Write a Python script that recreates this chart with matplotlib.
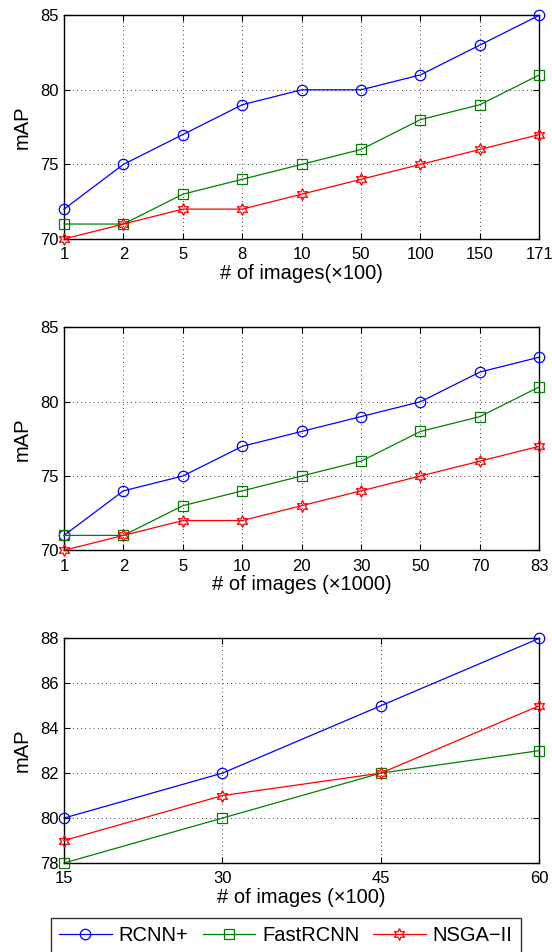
import numpy as np
import matplotlib
matplotlib.use('Agg')
import matplotlib.pyplot as plt

plt.rcParams['font.family'] = ['Liberation Sans', 'DejaVu Sans']
plt.rcParams['font.size'] = 12

# panel 1
x1_labels = ['1', '2', '5', '8', '10', '50', '100', '150', '171']
rcnn1 = [72, 75, 77, 79, 80, 80, 81, 83, 85]
fast1 = [71, 71, 73, 74, 75, 76, 78, 79, 81]
nsga1 = [70, 71, 72, 72, 73, 74, 75, 76, 77]

# panel 2
x2_labels = ['1', '2', '5', '10', '20', '30', '50', '70', '83']
rcnn2 = [71, 74, 75, 77, 78, 79, 80, 82, 83]
fast2 = [71, 71, 73, 74, 75, 76, 78, 79, 81]
nsga2 = [70, 71, 72, 72, 73, 74, 75, 76, 77]

# panel 3
x3_labels = ['15', '30', '45', '60']
rcnn3 = [80, 82, 85, 88]
fast3 = [78, 80, 82, 83]
nsga3 = [79, 81, 82, 85]

xlabels = ['# of images(\u00d7100)', '# of images (\u00d71000)', '# of images (\u00d7100)']

hexagram = (6, 1, 0)

fig = plt.figure(figsize=(5.52, 9.52), dpi=100)
rects = [[0.116, 0.749, 0.861, 0.235],
         [0.116, 0.422, 0.861, 0.234],
         [0.116, 0.0935, 0.861, 0.236]]

panels = [(x1_labels, rcnn1, fast1, nsga1, (70, 85), [70, 75, 80, 85]),
          (x2_labels, rcnn2, fast2, nsga2, (70, 85), [70, 75, 80, 85]),
          (x3_labels, rcnn3, fast3, nsga3, (78, 88), [78, 80, 82, 84, 86, 88])]

handles = None
for i, (labels, r, f, n, ylim, yt) in enumerate(panels):
    ax = fig.add_axes(rects[i])
    x = np.arange(len(labels))
    h1, = ax.plot(x, r, color='b', lw=0.9, marker='o', ms=7.5, mfc='none', mew=0.9,
                  clip_on=False, zorder=3, label='RCNN+')
    h2, = ax.plot(x, f, color=(0, 0.5, 0), lw=0.9, marker='s', ms=6.5, mfc='none', mew=0.9,
                  clip_on=False, zorder=3, label='FastRCNN')
    h3, = ax.plot(x, n, color='r', lw=0.9, marker=hexagram, ms=8.5, mfc='none', mew=0.9,
                  clip_on=False, zorder=3, label='NSGA\u2212II')
    handles = [h1, h2, h3]
    ax.set_xlim(0, len(labels) - 1)
    ax.set_ylim(*ylim)
    ax.set_xticks(x)
    ax.set_xticklabels(labels)
    ax.set_yticks(yt)
    ax.grid(True, color='k', ls=(0, (1, 4)), lw=0.6)
    ax.tick_params(axis='y', direction='in', right=True, length=4, pad=4)
    ax.tick_params(axis='x', direction='in', top=True, length=4, pad=6)
    for s in ax.spines.values():
        s.set_linewidth(1.0)
    ax.set_ylabel('mAP', fontsize=14.5, labelpad=6)
    ax.set_xlabel(xlabels[i], fontsize=14.5, labelpad=1)

leg = fig.legend(handles=handles, loc='upper center', bbox_to_anchor=(0.518, 0.0357),
                 ncol=3, frameon=True, fancybox=False, edgecolor='k',
                 handlelength=2.6, columnspacing=0.7, handletextpad=0.35,
                 borderpad=0.4, borderaxespad=0, fontsize=14.5)
leg.get_frame().set_linewidth(1.0)

fig.savefig('out.png', dpi=100)
